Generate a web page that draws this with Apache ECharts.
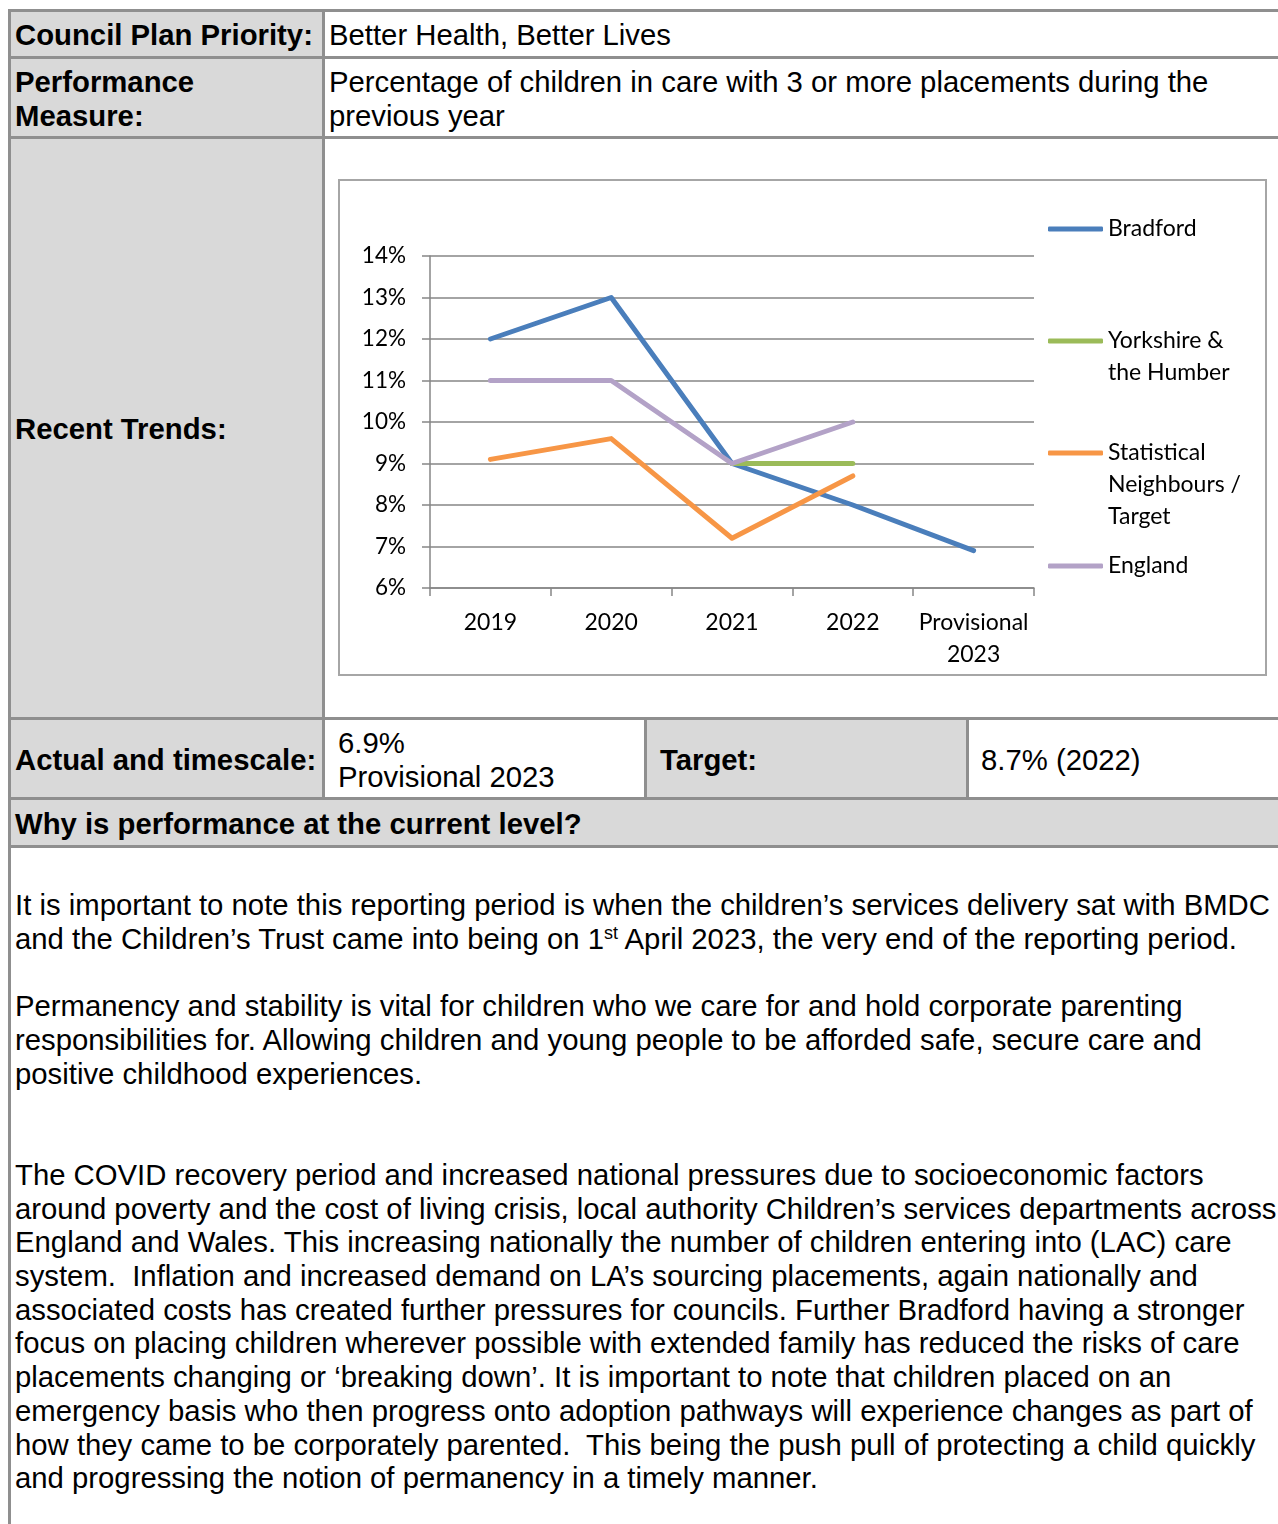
<!DOCTYPE html>
<html>
<head>
<meta charset="utf-8">
<script src="https://cdn.jsdelivr.net/npm/echarts@6/dist/echarts.min.js"></script>
<style>
html,body{margin:0;padding:0;background:#fff;}
#page{position:relative;width:1278px;height:1524px;overflow:hidden;font-family:"Liberation Sans",Arial,sans-serif;font-size:29.3px;color:#000;}
.bg{position:absolute;background:#d9d9d9;}
.hl{position:absolute;background:#8f8f8f;height:3px;}
.vl{position:absolute;background:#8f8f8f;width:3px;}
.t{position:absolute;white-space:nowrap;line-height:34px;height:34px;}
.b{font-weight:bold;}
sup{font-size:18px;line-height:0;vertical-align:10px;}
#chartBox{position:absolute;left:338px;top:179px;width:929px;height:497px;border:2px solid #a6a6a6;box-sizing:border-box;background:#fff;}
#chart{position:absolute;left:340px;top:181px;width:925px;height:493px;}
</style>
</head>
<body>
<div id="page">
  <div class="bg" style="left:11px;top:12px;width:311px;height:785px;"></div>
  <div class="bg" style="left:647px;top:720px;width:319px;height:77px;"></div>
  <div class="bg" style="left:11px;top:800px;width:1267px;height:45px;"></div>

  <div class="hl" style="left:8px;top:9px;width:1270px;"></div>
  <div class="hl" style="left:8px;top:56px;width:1270px;"></div>
  <div class="hl" style="left:8px;top:136px;width:1270px;"></div>
  <div class="hl" style="left:8px;top:717px;width:1270px;"></div>
  <div class="hl" style="left:8px;top:797px;width:1270px;"></div>
  <div class="hl" style="left:8px;top:845px;width:1270px;"></div>
  <div class="vl" style="left:8px;top:9px;height:1515px;"></div>
  <div class="vl" style="left:322px;top:9px;height:791px;"></div>
  <div class="vl" style="left:644px;top:717px;height:83px;"></div>
  <div class="vl" style="left:966px;top:717px;height:83px;"></div>

  <div class="t b" style="left:15px;top:18px;">Council Plan Priority:</div>
  <div class="t" style="left:329px;top:18px;">Better Health, Better Lives</div>
  <div class="t b" style="left:15px;top:65px;">Performance</div>
  <div class="t b" style="left:15px;top:99px;">Measure:</div>
  <div class="t" style="left:329px;top:65px;">Percentage of children in care with 3 or more placements during the</div>
  <div class="t" style="left:329px;top:99px;">previous year</div>
  <div class="t b" style="left:15px;top:412px;">Recent Trends:</div>
  <div class="t b" style="left:15px;top:743px;">Actual and timescale:</div>
  <div class="t" style="left:338px;top:726px;">6.9%</div>
  <div class="t" style="left:338px;top:760px;">Provisional 2023</div>
  <div class="t b" style="left:660px;top:743px;">Target:</div>
  <div class="t" style="left:981px;top:743px;">8.7% (2022)</div>
  <div class="t b" style="left:15px;top:807px;">Why is performance at the current level?</div>

  <div class="t" style="left:15px;top:888px;">It is important to note this reporting period is when the children’s services delivery sat with BMDC</div>
  <div class="t" style="left:15px;top:922px;">and the Children’s Trust came into being on 1<sup>st</sup> April 2023, the very end of the reporting period.</div>

  <div class="t" style="left:15px;top:989px;">Permanency and stability is vital for children who we care for and hold corporate parenting</div>
  <div class="t" style="left:15px;top:1023px;">responsibilities for. Allowing children and young people to be afforded safe, secure care and</div>
  <div class="t" style="left:15px;top:1057px;">positive childhood experiences.</div>

  <div class="t" style="left:15px;top:1158px;">The COVID recovery period and increased national pressures due to socioeconomic factors</div>
  <div class="t" style="left:15px;top:1192px;">around poverty and the cost of living crisis, local authority Children’s services departments across</div>
  <div class="t" style="left:15px;top:1225px;">England and Wales. This increasing nationally the number of children entering into (LAC) care</div>
  <div class="t" style="left:15px;top:1259px;">system.&nbsp; Inflation and increased demand on LA’s sourcing placements, again nationally and</div>
  <div class="t" style="left:15px;top:1293px;">associated costs has created further pressures for councils. Further Bradford having a stronger</div>
  <div class="t" style="left:15px;top:1326px;">focus on placing children wherever possible with extended family has reduced the risks of care</div>
  <div class="t" style="left:15px;top:1360px;">placements changing or ‘breaking down’. It is important to note that children placed on an</div>
  <div class="t" style="left:15px;top:1394px;">emergency basis who then progress onto adoption pathways will experience changes as part of</div>
  <div class="t" style="left:15px;top:1428px;">how they came to be corporately parented.&nbsp; This being the push pull of protecting a child quickly</div>
  <div class="t" style="left:15px;top:1461px;">and progressing the notion of permanency in a timely manner.</div>

  <div id="chartBox"></div>
  <div id="chart"></div>
</div>
<script>
const categories = ['2019', '2020', '2021', '2022', 'Provisional\n2023'];
const bradford = [12, 13, 9, 8, 6.9];
const yorkshireHumber = [null, null, 9, 9, null];
const statNeighbours = [9.1, 9.6, 7.2, 8.7, null];
const england = [11, 11, 9, 10, null];
const seriesNames = ['Bradford', 'Yorkshire & the Humber', 'Statistical Neighbours / Target', 'England'];
const legendLabels = ['Bradford', 'Yorkshire &\nthe Humber', 'Statistical\nNeighbours /\nTarget', 'England'];
const seriesColors = ['#4A7EBB', '#9BBB59', '#F79646', '#B3A2C7'];
const yMin = 6, yMax = 14, yStep = 1;

const seriesData = [bradford, yorkshireHumber, statNeighbours, england];
const chartFont = 'Lato, "Open Sans", sans-serif';
const legendLineH = 32;
const legendCenters = [48, 160, 272, 385];

const chart = echarts.init(document.getElementById('chart'));

// Each legend entry is its own legend so that the marker sits on the first text line
// (blank lines above keep the first line centred on the marker).
const legends = seriesNames.map(function (name, i) {
  const n = legendLabels[i].split('\n').length;
  const shown = '\n'.repeat(n - 1) + legendLabels[i];
  return {
    data: [name],
    orient: 'vertical',
    left: 708,
    top: legendCenters[i] - (2 * n - 1) * legendLineH / 2,
    padding: 0,
    icon: 'roundRect',
    itemWidth: 55,
    itemHeight: 5,
    formatter: function () { return shown; },
    textStyle: {
      fontFamily: chartFont,
      fontSize: 23,
      color: '#000',
      lineHeight: legendLineH
    }
  };
});

chart.setOption({
  animation: false,
  legend: legends,
  grid: { left: 90, top: 75, width: 604, height: 332, containLabel: false },
  xAxis: {
    type: 'category',
    data: categories,
    boundaryGap: true,
    axisLine: { show: true, lineStyle: { color: '#868686', width: 1.5 } },
    axisTick: { show: true, length: 8, inside: false, lineStyle: { color: '#868686', width: 1.5 } },
    axisLabel: { fontFamily: chartFont, fontSize: 23, color: '#000', margin: 19, lineHeight: 32, interval: 0 }
  },
  yAxis: {
    type: 'value',
    min: yMin,
    max: yMax,
    interval: yStep,
    axisLine: { show: true, lineStyle: { color: '#868686', width: 1.5 } },
    axisTick: { show: true, length: 8, lineStyle: { color: '#868686', width: 1.5 } },
    axisLabel: { fontFamily: chartFont, fontSize: 22.5, color: '#000', margin: 24, formatter: '{value}%' },
    splitLine: { show: true, lineStyle: { color: '#868686', width: 1.5 } }
  },
  series: seriesNames.map(function (name, i) {
    return {
      name: name,
      type: 'line',
      data: seriesData[i],
      symbol: 'none',
      connectNulls: false,
      color: seriesColors[i],
      lineStyle: { width: 5, color: seriesColors[i], cap: 'round', join: 'round' },
      z: 2 + i
    };
  })
});
</script>
</body>
</html>
